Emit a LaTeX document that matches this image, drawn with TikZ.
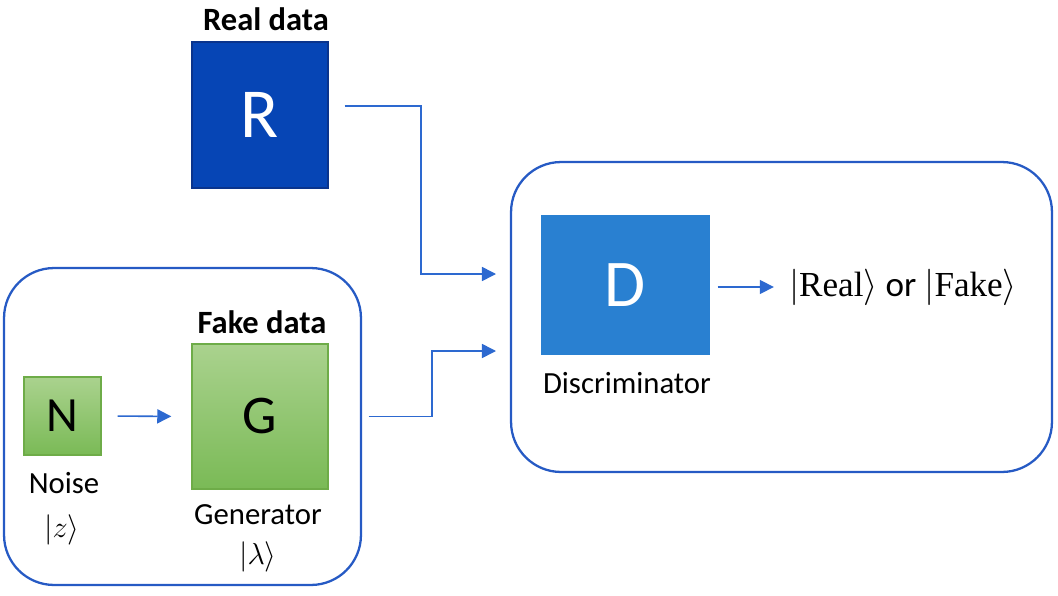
\documentclass[tikz,border=0pt]{standalone}
\usepackage{fontspec}
\setmainfont{Carlito}
\newfontfamily\ketfont{Liberation Serif}
\usetikzlibrary{arrows.meta, positioning}
\definecolor{realblue}{RGB}{6, 69, 181}
\definecolor{realedge}{RGB}{10, 52, 140}
\definecolor{discblue}{RGB}{41, 128, 209}
\definecolor{frameblue}{RGB}{38, 90, 196}
\definecolor{flowblue}{RGB}{45, 105, 208}
\definecolor{gtop}{RGB}{170, 210, 142}
\definecolor{gbot}{RGB}{122, 186, 86}
\definecolor{gedge}{RGB}{110, 172, 72}
\newcommand{\ketword}[1]{$|${\ketfont #1}$\rangle$}

\begin{document}
\begin{tikzpicture}[x=0.02cm, y=-0.02cm,
    frame/.style={draw=frameblue, line width=1.3pt, rounded corners=1cm, inner sep=0pt},
    block/.style={inner sep=0pt, line width=0.8pt},
    greenblock/.style={block, draw=gedge, top color=gtop, bottom color=gbot},
    flow/.style={draw=flowblue, line width=0.9pt, -{Triangle[length=8pt, width=8pt]}},
    lbl/.style={font=\fontsize{17.5}{20}\selectfont},
    head/.style={font=\bfseries\fontsize{18.5}{22}\selectfont}]
    \useasboundingbox (0,0) rectangle (1058,595);
    \node[frame, minimum width=7.14cm, minimum height=6.34cm] (genframe) at (182.5,426.5) {};
    \node[frame, minimum width=10.82cm, minimum height=6.2cm] (discframe) at (781.5,317) {};
    \node[block, draw=realedge, fill=realblue, text=white, minimum width=2.72cm, minimum height=2.92cm,
      font=\fontsize{40}{44}\selectfont] (R) at (260,115) {R};
    \node[head] (realdata) at (266,19) {Real data};
    \node[greenblock, minimum width=1.54cm, minimum height=1.56cm, font=\fontsize{28}{32}\selectfont] (N) at (62.5,416) {N};
    \node[lbl] (noise) at (64,483) {Noise};
    \node[lbl] (zket) at (62,530) {$|z\rangle$};
    \node[greenblock, minimum width=2.72cm, minimum height=2.9cm, font=\fontsize{31}{34}\selectfont] (G) at (260,416.5) {G};
    \node[head] (fakedata) at (262,322) {Fake data};
    \node[lbl] (generator) at (258,515) {Generator};
    \node[lbl] (lket) at (258,557) {$|\lambda\rangle$};
    \node[block, fill=discblue, text=white, minimum width=3.38cm, minimum height=2.8cm,
      font=\fontsize{38}{42}\selectfont] (D) at (625.5,285) {D};
    \node[lbl] (discriminator) at (627,383) {Discriminator};
    \node[font=\fontsize{20}{24}\selectfont] (out) at (903,287) {\ketword{Real} or \ketword{Fake}};
    \coordinate (inR) at (496,274);
    \coordinate (inG) at (496,351);
    \draw[flow, shorten <=0.32cm] ([yshift=0.18cm]R.east) -| (421,190) |- (inR);
    \draw[flow, shorten <=0.8cm] (G.east) -| (432,380) |- (inG);
    \draw[flow, shorten <=0.32cm, shorten >=0.4cm] (N.east) -- (G.west);
    \draw[flow, shorten <=0.14cm, shorten >=0.18cm] (D.east |- out.west) -- (out.west);
  \end{tikzpicture}
\end{document}
